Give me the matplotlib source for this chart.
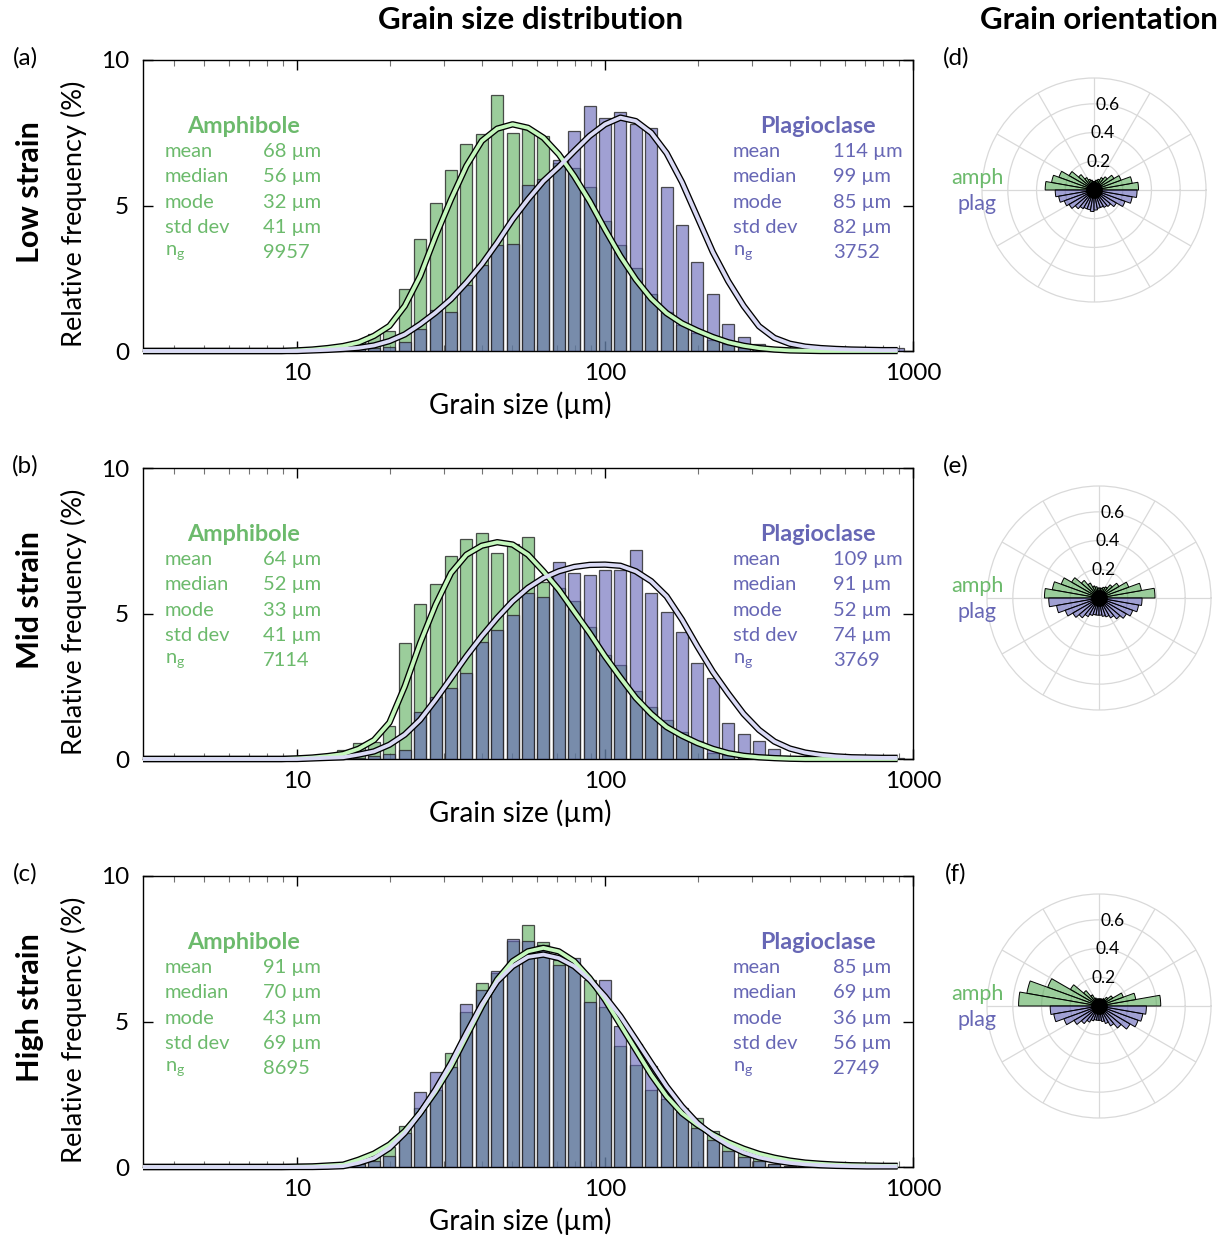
import numpy as np
import matplotlib
matplotlib.use('Agg')
import matplotlib.pyplot as plt

plt.rcParams['font.family'] = ['Lato', 'DejaVu Sans']
plt.rcParams['mathtext.fontset'] = 'custom'
plt.rcParams['mathtext.rm'] = 'Lato'
plt.rcParams['mathtext.it'] = 'Lato'

# ---------------- data ----------------
# histogram bins (log10 of grain size in um, bin centres)
bin_log = [1.10, 1.15, 1.20, 1.25, 1.30, 1.35, 1.40, 1.45, 1.50, 1.55,
           1.60, 1.65, 1.70, 1.75, 1.80, 1.85, 1.90, 1.95, 2.00, 2.05,
           2.10, 2.15, 2.20, 2.25, 2.30, 2.35, 2.40, 2.45, 2.50, 2.55,
           2.60, 2.65, 2.70, 2.75, 2.80, 2.85, 2.90, 2.95]

amph_low = [0.05, 0.15, 0.34, 0.57, 0.69, 2.14, 3.86, 5.09, 6.22, 7.12,
            7.45, 8.79, 7.50, 7.62, 7.39, 6.45, 6.30, 5.65, 4.47, 3.64,
            2.86, 1.97, 1.35, 0.89, 0.63, 0.37, 0.23, 0.12, 0.06, 0.03,
            0.02, 0.01, 0, 0, 0, 0, 0, 0]
plag_low = [0.02, 0.05, 0.08, 0.10, 0.15, 0.30, 0.75, 1.41, 1.34, 2.26,
            2.94, 3.63, 3.69, 5.69, 5.90, 6.55, 7.56, 8.42, 8.02, 8.22,
            7.79, 7.67, 5.64, 4.32, 3.07, 1.95, 0.94, 0.49, 0.25, 0.12,
            0.08, 0.05, 0.04, 0.03, 0.02, 0.02, 0.02, 0.10]

amph_mid = [0.10, 0.30, 0.55, 0.58, 1.12, 3.99, 5.34, 6.01, 6.99, 7.56,
            7.76, 7.08, 7.40, 7.62, 6.09, 5.88, 5.42, 4.54, 3.56, 3.24,
            2.33, 1.79, 1.35, 0.93, 0.63, 0.21, 0.15, 0.05, 0.05, 0.02,
            0, 0, 0, 0, 0, 0, 0, 0]
plag_mid = [0.00, 0.02, 0.05, 0.10, 0.17, 0.30, 1.60, 2.13, 2.43, 2.96,
            4.01, 4.44, 4.96, 5.70, 5.57, 6.76, 6.39, 6.33, 6.51, 6.51,
            7.17, 5.70, 5.04, 4.35, 3.30, 2.80, 1.22, 0.85, 0.62, 0.36,
            0.12, 0.10, 0.08, 0.05, 0.04, 0.03, 0.03, 0.05]

amph_high = [0.05, 0.10, 0.20, 0.37, 0.69, 1.40, 2.03, 2.66, 3.92, 5.31,
             6.32, 6.67, 7.75, 8.30, 7.72, 7.10, 7.01, 6.44, 5.50, 4.17,
             3.49, 2.63, 2.34, 2.03, 1.68, 1.25, 0.79, 0.52, 0.30, 0.12,
             0.05, 0.03, 0.02, 0.01, 0, 0, 0, 0]
plag_high = [0.02, 0.05, 0.10, 0.20, 0.37, 1.17, 2.58, 3.26, 3.44, 5.60,
             6.09, 6.75, 7.85, 7.78, 7.64, 6.95, 7.18, 5.66, 6.41, 4.86,
             4.24, 3.46, 2.60, 1.88, 1.34, 0.92, 0.56, 0.35, 0.20, 0.10,
             0.05, 0.03, 0.02, 0.01, 0.01, 0, 0, 0]

# fitted curves, sampled at log10 = 0.50 ... 2.95
curve_log = [0.50, 0.55, 0.60, 0.65, 0.70, 0.75, 0.80, 0.85, 0.90, 0.95,
             1.00, 1.05, 1.10, 1.15, 1.20, 1.25, 1.30, 1.35, 1.40, 1.45,
             1.50, 1.55, 1.60, 1.65, 1.70, 1.75, 1.80, 1.85, 1.90, 1.95,
             2.00, 2.05, 2.10, 2.15, 2.20, 2.25, 2.30, 2.35, 2.40, 2.45,
             2.50, 2.55, 2.60, 2.65, 2.70, 2.75, 2.80, 2.85, 2.90, 2.95]

amph_fit_low = [0, 0, 0, 0, 0, 0, 0, 0, 0, 0,
                0.02, 0.05, 0.10, 0.17, 0.29, 0.52, 0.86, 1.55, 2.58, 3.95,
                5.21, 6.36, 7.22, 7.64, 7.79, 7.67, 7.33, 6.76, 6.01, 5.15,
                4.18, 3.26, 2.46, 1.80, 1.30, 0.95, 0.70, 0.48, 0.30, 0.18,
                0.10, 0.05, 0.02, 0.01, 0, 0, 0, 0, 0, 0]
plag_fit_low = [0, 0, 0, 0, 0, 0, 0, 0, 0, 0,
                0, 0.02, 0.04, 0.07, 0.11, 0.19, 0.34, 0.57, 0.92, 1.32,
                1.78, 2.35, 2.98, 3.72, 4.52, 5.21, 5.84, 6.33, 6.87, 7.39,
                7.79, 8.02, 7.90, 7.50, 6.80, 5.80, 4.60, 3.40, 2.40, 1.55,
                0.85, 0.45, 0.25, 0.15, 0.10, 0.07, 0.05, 0.04, 0.03, 0.03]

amph_fit_mid = [0, 0, 0, 0, 0, 0, 0, 0, 0, 0,
                0.02, 0.05, 0.10, 0.17, 0.35, 0.65, 1.25, 2.50, 3.99, 5.30,
                6.39, 7.02, 7.33, 7.45, 7.37, 7.02, 6.45, 5.82, 5.07, 4.33,
                3.53, 2.80, 2.10, 1.55, 1.10, 0.80, 0.55, 0.35, 0.20, 0.11,
                0.06, 0.03, 0.01, 0, 0, 0, 0, 0, 0, 0]
plag_fit_mid = [0, 0, 0, 0, 0, 0, 0, 0, 0, 0,
                0, 0.02, 0.04, 0.06, 0.15, 0.26, 0.49, 0.84, 1.35, 2.04,
                2.78, 3.53, 4.22, 4.85, 5.42, 5.88, 6.22, 6.45, 6.60, 6.67,
                6.68, 6.64, 6.45, 6.11, 5.59, 4.79, 3.87, 3.00, 2.25, 1.55,
                1.00, 0.60, 0.36, 0.22, 0.14, 0.09, 0.06, 0.05, 0.04, 0.04]

amph_fit_high = [0, 0, 0, 0, 0, 0, 0, 0, 0, 0,
                 0.01, 0.02, 0.05, 0.08, 0.25, 0.46, 0.77, 1.23, 1.86, 2.60,
                 3.46, 4.49, 5.52, 6.44, 7.07, 7.41, 7.53, 7.41, 7.07, 6.49,
                 5.75, 4.89, 4.03, 3.17, 2.43, 1.85, 1.45, 1.12, 0.85, 0.63,
                 0.45, 0.32, 0.22, 0.15, 0.11, 0.08, 0.06, 0.05, 0.04, 0.04]
plag_fit_high = [0, 0, 0, 0, 0, 0, 0, 0, 0, 0,
                 0, 0, 0.01, 0.03, 0.14, 0.31, 0.65, 1.17, 1.86, 2.66,
                 3.57, 4.60, 5.58, 6.38, 6.90, 7.22, 7.30, 7.18, 6.90, 6.44,
                 5.86, 5.18, 4.38, 3.57, 2.77, 2.08, 1.51, 1.08, 0.75, 0.50,
                 0.33, 0.22, 0.14, 0.09, 0.06, 0.04, 0.03, 0.02, 0.02, 0.02]

stat_names = ['mean', 'median', 'mode', 'std dev', r'n$_{\rm g}$']
amph_stats = [['68 µm', '56 µm', '32 µm', '41 µm', '9957'],
              ['64 µm', '52 µm', '33 µm', '41 µm', '7114'],
              ['91 µm', '70 µm', '43 µm', '69 µm', '8695']]
plag_stats = [['114 µm', '99 µm', '85 µm', '82 µm', '3752'],
              ['109 µm', '91 µm', '52 µm', '74 µm', '3769'],
              ['85 µm', '69 µm', '36 µm', '56 µm', '2749']]

# rose diagrams: 10 degree bins, amphibole 0-180, plagioclase 180-360
rose_amph_deg = [5, 15, 25, 35, 45, 55, 65, 75, 85, 95, 105, 115, 125, 135, 145, 155, 165, 175]
rose_plag_deg = [185, 195, 205, 215, 225, 235, 245, 255, 265, 275, 285, 295, 305, 315, 325, 335, 345, 355]

rose_amph = [[0.31, 0.27, 0.20, 0.16, 0.12, 0.10, 0.08, 0.07, 0.06, 0.06, 0.07, 0.08, 0.10, 0.14, 0.20, 0.26, 0.30, 0.34],
             [0.39, 0.30, 0.22, 0.16, 0.12, 0.09, 0.08, 0.07, 0.07, 0.07, 0.08, 0.09, 0.12, 0.16, 0.22, 0.28, 0.33, 0.38],
             [0.43, 0.26, 0.18, 0.11, 0.08, 0.06, 0.05, 0.04, 0.04, 0.04, 0.05, 0.06, 0.09, 0.14, 0.23, 0.38, 0.51, 0.56]]
rose_plag = [[0.27, 0.25, 0.22, 0.20, 0.17, 0.15, 0.14, 0.14, 0.15, 0.14, 0.13, 0.13, 0.14, 0.15, 0.18, 0.23, 0.27, 0.30],
             [0.35, 0.30, 0.25, 0.21, 0.18, 0.15, 0.13, 0.12, 0.12, 0.12, 0.13, 0.14, 0.16, 0.19, 0.22, 0.25, 0.28, 0.30],
             [0.34, 0.32, 0.26, 0.20, 0.16, 0.13, 0.11, 0.10, 0.10, 0.10, 0.11, 0.13, 0.16, 0.20, 0.25, 0.29, 0.31, 0.33]]
rose_rings = [0.2, 0.4, 0.6]

row_names = ['Low strain', 'Mid strain', 'High strain']
hist_letters = ['(a)', '(b)', '(c)']
rose_letters = ['(d)', '(e)', '(f)']

# ---------------- style ----------------
W, H = 1231, 1238
GREEN_FACE = (88 / 255, 172 / 255, 88 / 255, 0.6)
PURPLE_FACE = (97 / 255, 97 / 255, 183 / 255, 0.6)
EDGE = (0.15, 0.15, 0.15, 0.8)
GREEN_TXT = '#6cba6c'
PURPLE_TXT = '#6767b5'
GREEN_LINE = '#c4f7bc'
PURPLE_LINE = '#dadaf5'


def px_rect(x0, y0, x1, y1):
    return [x0 / W, 1 - y1 / H, (x1 - x0) / W, (y1 - y0) / H]


def draw_hist(ax, amph, plag, amph_fit, plag_fit, astats, pstats):
    L = np.array(bin_log)
    half = 0.0195
    left = 10 ** (L - half)
    width = 10 ** (L + half) - left
    ax.bar(left, amph, width=width, align='edge', color=GREEN_FACE, edgecolor=EDGE, linewidth=0.9, zorder=2)
    ax.bar(left, plag, width=width, align='edge', color=PURPLE_FACE, edgecolor=EDGE, linewidth=0.9, zorder=3)

    xc = 10 ** np.array(curve_log)
    for fit, col in [(amph_fit, GREEN_LINE), (plag_fit, PURPLE_LINE)]:
        ax.plot(xc, fit, color='k', lw=4.6, zorder=4, clip_on=False, solid_capstyle='butt')
        ax.plot(xc, fit, color=col, lw=2.7, zorder=5, clip_on=False, solid_capstyle='butt')

    ax.set_xscale('log')
    ax.set_xlim(10 ** 0.5, 1000)
    ax.set_ylim(0, 10)
    ax.set_yticks([0, 5, 10])
    ax.set_xticks([10, 100, 1000])
    ax.set_xticklabels(['10', '100', '1000'])
    ax.tick_params(which='both', direction='in', top=True, right=True, labelsize=17.5)
    ax.tick_params(which='major', length=7, width=1)
    ax.tick_params(which='minor', length=4, width=0.8, color='0.45')
    ax.tick_params(axis='x', pad=9)
    ax.tick_params(axis='y', pad=10)
    for s in ax.spines.values():
        s.set_linewidth(1.0)
    ax.set_xlabel('Grain size (µm)', fontsize=20)
    ax.set_ylabel('Relative frequency (%)', fontsize=19.5)
    ax.xaxis.set_label_coords(0.49, -0.14)
    ax.yaxis.set_label_coords(-0.073, 0.47)

    ys = [0.684, 0.598, 0.512, 0.426, 0.340]
    ax.text(0.13, 0.77, 'Amphibole', transform=ax.transAxes, color=GREEN_TXT, fontsize=16.8,
            fontweight='bold', ha='center', va='center')
    ax.text(0.877, 0.77, 'Plagioclase', transform=ax.transAxes, color=PURPLE_TXT, fontsize=16.8,
            fontweight='bold', ha='center', va='center')
    for y, name, av, pv in zip(ys, stat_names, astats, pstats):
        ax.text(0.0286, y, name, transform=ax.transAxes, color=GREEN_TXT, fontsize=14.5, va='center')
        ax.text(0.156, y, av, transform=ax.transAxes, color=GREEN_TXT, fontsize=14.5, va='center')
        ax.text(0.766, y, name, transform=ax.transAxes, color=PURPLE_TXT, fontsize=14.5, va='center')
        ax.text(0.896, y, pv, transform=ax.transAxes, color=PURPLE_TXT, fontsize=14.5, va='center')


def draw_rose(ax, amph_r, plag_r):
    w = np.deg2rad(10)
    ax.bar(np.deg2rad(rose_amph_deg), amph_r, width=w, color=GREEN_FACE, edgecolor='k', linewidth=0.7, zorder=3)
    ax.bar(np.deg2rad(rose_plag_deg), plag_r, width=w, color=PURPLE_FACE, edgecolor='k', linewidth=0.7, zorder=3)
    ax.plot([0], [0], 'o', color='k', markersize=11, zorder=5)
    ax.set_ylim(0, 0.78)
    ax.set_yticks(rose_rings)
    ax.set_yticklabels([])
    for rr in rose_rings:
        ax.text(np.deg2rad(81), rr, f'{rr:.1f}', fontsize=12.5, ha='center', va='center', zorder=6)
    ax.set_xticks(np.deg2rad(np.arange(0, 360, 30)))
    ax.set_xticklabels([])
    ax.grid(True, color='0.85', lw=0.9)
    ax.spines['polar'].set_color('0.85')
    ax.spines['polar'].set_linewidth(0.9)
    ax.set_axisbelow(True)


fig = plt.figure(figsize=(W / 100, H / 100), dpi=100)

hist_tops = [60, 468, 876]
rose_centres = [(1094, 190), (1099, 598), (1099, 1006)]
amphs = [amph_low, amph_mid, amph_high]
plags = [plag_low, plag_mid, plag_high]
amph_fits = [amph_fit_low, amph_fit_mid, amph_fit_high]
plag_fits = [plag_fit_low, plag_fit_mid, plag_fit_high]

for i in range(3):
    top = hist_tops[i]
    ax = fig.add_axes(px_rect(143, top, 913, top + 291))
    draw_hist(ax, amphs[i], plags[i], amph_fits[i], plag_fits[i], amph_stats[i], plag_stats[i])

    cx, cy = rose_centres[i]
    r = 112
    pax = fig.add_axes(px_rect(cx - r, cy - r, cx + r, cy + r), projection='polar')
    draw_rose(pax, rose_amph[i], rose_plag[i])

    fig.text(25 / W, 1 - (top - 2) / H, hist_letters[i], fontsize=17.5, ha='center', va='center')
    fig.text(956 / W, 1 - (top - 2) / H, rose_letters[i], fontsize=17.5, ha='center', va='center')
    fig.text(30 / W, 1 - (top + 132) / H, row_names[i], fontsize=22, fontweight='bold',
             rotation=90, ha='center', va='center')
    fig.text(977 / W, 1 - (cy - 12) / H, 'amph', fontsize=15.5, color=GREEN_TXT, ha='center', va='center')
    fig.text(977 / W, 1 - (cy + 14) / H, 'plag', fontsize=15.5, color=PURPLE_TXT, ha='center', va='center')

fig.text(531 / W, 1 - 20 / H, 'Grain size distribution', fontsize=22.5, fontweight='bold', ha='center', va='center')
fig.text(1099 / W, 1 - 20 / H, 'Grain orientation', fontsize=22.5, fontweight='bold', ha='center', va='center')

fig.savefig('out.png', dpi=100)
